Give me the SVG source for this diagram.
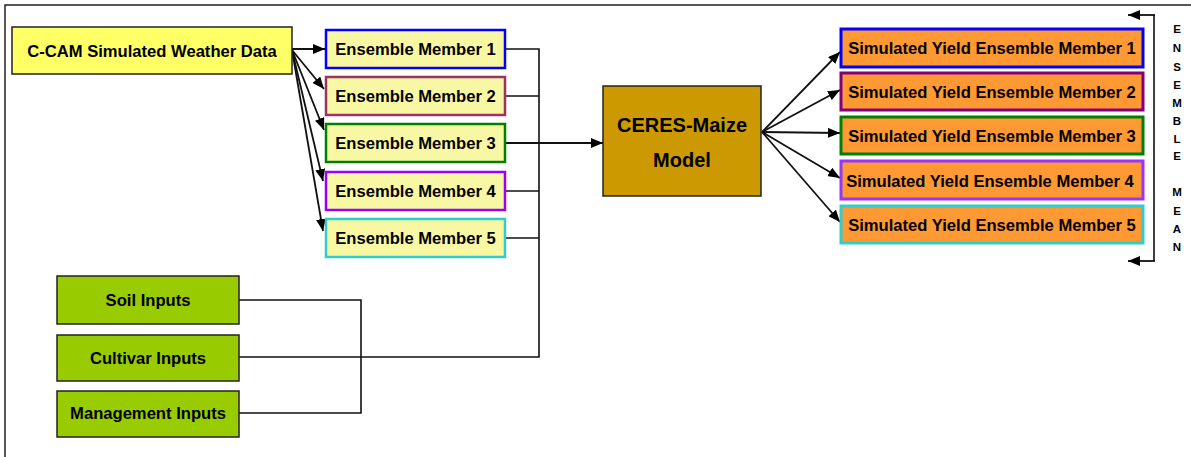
<svg xmlns="http://www.w3.org/2000/svg" width="1191" height="457" viewBox="0 0 1191 457">
  <defs>
    <marker id="arrow" viewBox="0 0 12 10" refX="12" refY="5" markerWidth="12" markerHeight="10" markerUnits="userSpaceOnUse" orient="auto">
      <path d="M0,0 L12,5 L0,10 z" fill="#000"/>
    </marker>
    <style>
      text { font-family: "Liberation Sans", Arial, sans-serif; font-weight: bold; fill: #000; text-anchor: middle; dominant-baseline: central; }
      .lbl { font-size: 16.6px; }
      .big { font-size: 20px; }
      .vert { font-size: 11.5px; }
      .src { fill: #ffff66; stroke: #222; stroke-width: 1.5; }
      .mem { fill: #f8f8a4; stroke-width: 2.5; }
      .inp { fill: #99cc00; stroke: #222; stroke-width: 1.5; }
      .model { fill: #cc9900; stroke: #222; stroke-width: 1.5; }
      .yield { fill: #ff9933; stroke-width: 3; }
      .wire { fill: none; stroke: #111; stroke-width: 1.6; }
      .arr { fill: none; stroke: #111; stroke-width: 1.8; marker-end: url(#arrow); }
    </style>
  </defs>

  <!-- frame -->
  <path d="M5,457 L5,5 L1191,5" fill="none" stroke="#222" stroke-width="1.5"/>

  <!-- connectors -->
  <g id="connectors">
    <!-- weather data fan-out -->
    <line class="arr" x1="292" y1="49" x2="325" y2="49"/>
    <line class="arr" x1="292" y1="50" x2="324" y2="89"/>
    <line class="arr" x1="292" y1="50" x2="324" y2="130"/>
    <line class="arr" x1="292" y1="50" x2="323" y2="181"/>
    <line class="arr" x1="292" y1="50" x2="323" y2="231"/>
    <!-- members to model bus -->
    <path class="wire" d="M505,49 H539 V357 H239"/>
    <line class="wire" x1="505" y1="96" x2="539" y2="96"/>
    <line class="wire" x1="505" y1="191" x2="539" y2="191"/>
    <line class="wire" x1="505" y1="238" x2="539" y2="238"/>
    <line class="arr" x1="505" y1="143" x2="603" y2="143"/>
    <!-- soil / management join -->
    <path class="wire" d="M239,300 H361 V413 H239"/>
    <!-- model to yields -->
    <line class="arr" x1="762" y1="132" x2="840" y2="52"/>
    <line class="arr" x1="762" y1="132" x2="840" y2="90"/>
    <line class="arr" x1="762" y1="132" x2="840" y2="133"/>
    <line class="arr" x1="762" y1="132" x2="840" y2="178"/>
    <line class="arr" x1="762" y1="132" x2="840" y2="222"/>
    <!-- ensemble mean bracket -->
    <path class="wire" d="M1154,15 V261"/>
    <line class="arr" x1="1155" y1="15" x2="1128" y2="15"/>
    <line class="arr" x1="1155" y1="261" x2="1128" y2="261"/>
  </g>

  <g id="weather">
    <rect class="src" x="12" y="27" width="280" height="47"/>
    <text class="lbl" x="152" y="51">C-CAM Simulated Weather Data</text>
  </g>

  <g id="member1">
    <rect class="mem" x="326" y="30" width="179" height="38" stroke="#0000ff"/>
    <text class="lbl" x="415.5" y="49">Ensemble Member 1</text>
  </g>
  <g id="member2">
    <rect class="mem" x="326" y="77" width="179" height="38" stroke="#993366"/>
    <text class="lbl" x="415.5" y="96">Ensemble Member 2</text>
  </g>
  <g id="member3">
    <rect class="mem" x="326" y="124" width="179" height="38" stroke="#008000"/>
    <text class="lbl" x="415.5" y="143">Ensemble Member 3</text>
  </g>
  <g id="member4">
    <rect class="mem" x="326" y="172" width="179" height="38" stroke="#9900ff"/>
    <text class="lbl" x="415.5" y="191">Ensemble Member 4</text>
  </g>
  <g id="member5">
    <rect class="mem" x="326" y="219" width="179" height="38" stroke="#33cccc"/>
    <text class="lbl" x="415.5" y="238">Ensemble Member 5</text>
  </g>

  <g id="soil">
    <rect class="inp" x="57" y="276" width="182" height="48"/>
    <text class="lbl" x="148" y="300">Soil Inputs</text>
  </g>
  <g id="cultivar">
    <rect class="inp" x="57" y="335" width="182" height="46"/>
    <text class="lbl" x="148" y="358">Cultivar Inputs</text>
  </g>
  <g id="management">
    <rect class="inp" x="57" y="391" width="182" height="46"/>
    <text class="lbl" x="148" y="413">Management Inputs</text>
  </g>

  <g id="ceres">
    <rect class="model" x="603" y="86" width="158" height="110"/>
    <text class="big" x="682" y="125">CERES-Maize</text>
    <text class="big" x="682" y="160">Model</text>
  </g>

  <g id="yield1">
    <rect class="yield" x="841" y="29" width="302" height="38" stroke="#0000ff"/>
    <text class="lbl" x="992" y="48">Simulated Yield Ensemble Member 1</text>
  </g>
  <g id="yield2">
    <rect class="yield" x="841" y="73" width="302" height="37" stroke="#800080"/>
    <text class="lbl" x="992" y="92">Simulated Yield Ensemble Member 2</text>
  </g>
  <g id="yield3">
    <rect class="yield" x="841" y="117" width="302" height="37" stroke="#008000"/>
    <text class="lbl" x="992" y="136">Simulated Yield Ensemble Member 3</text>
  </g>
  <g id="yield4">
    <rect class="yield" x="841" y="161" width="302" height="38" stroke="#9933ff"/>
    <text class="lbl" x="990" y="181">Simulated Yield Ensemble Member 4</text>
  </g>
  <g id="yield5">
    <rect class="yield" x="841" y="206" width="302" height="37" stroke="#33cccc"/>
    <text class="lbl" x="992" y="225">Simulated Yield Ensemble Member 5</text>
  </g>

  <g id="ensemble-mean">
    <text class="vert" x="1177" y="29">E</text>
    <text class="vert" x="1177" y="48">N</text>
    <text class="vert" x="1177" y="67">S</text>
    <text class="vert" x="1177" y="85">E</text>
    <text class="vert" x="1177" y="103">M</text>
    <text class="vert" x="1177" y="121">B</text>
    <text class="vert" x="1177" y="139">L</text>
    <text class="vert" x="1177" y="156">E</text>
    <text class="vert" x="1177" y="192">M</text>
    <text class="vert" x="1177" y="211">E</text>
    <text class="vert" x="1177" y="229">A</text>
    <text class="vert" x="1177" y="247">N</text>
  </g>
</svg>
